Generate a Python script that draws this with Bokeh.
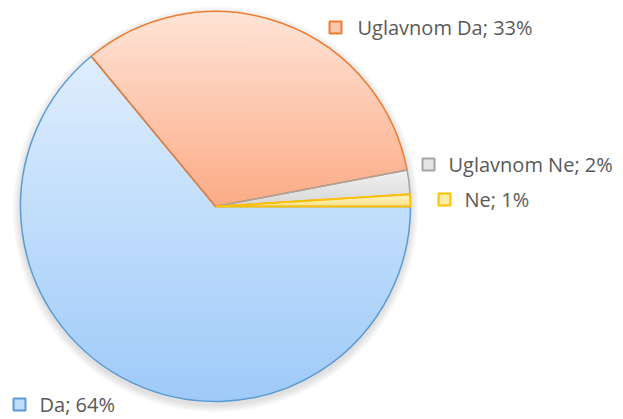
import math
from bokeh.plotting import figure
from bokeh.models import Range1d, ColumnDataSource
from bokeh.core.properties import value
from bokeh.embed import file_html
from bokeh.resources import INLINE

# ---- data ----
categories = ["Da", "Uglavnom Da", "Uglavnom Ne", "Ne"]
percents = [64, 33, 2, 1]

# ---- styles ----
light_colors = ["#dfeefe", "#fee4d7", "#f2f2f2", "#fff5c8"]
dark_colors = ["#9ecaf8", "#fcab86", "#d6d6d6", "#ffe285"]
mid_colors = ["#bfdcfb", "#fdc6ad", "#e4e4e4", "#ffeca6"]
line_colors = ["#5b9bd5", "#ed7d31", "#a5a5a5", "#ffc000"]
line_widths = [1.5, 1.5, 1.5, 2.0]

W, H = 623, 419
CX, CY, R = 215, 213, 195

# label layout (marker centre, text start) in plot units
label_marker_xy = [(19, 15), (335, 392), (428, 255), (444, 220)]
label_text_x = [39, 357, 448, 464]

p = figure(width=W, height=H, output_backend="svg", toolbar_location=None,
           x_range=Range1d(0, W), y_range=Range1d(0, H), min_border=0)
p.axis.visible = False
p.grid.visible = False
p.outline_line_color = None
p.background_fill_color = "white"
p.border_fill_color = "white"

# soft shadow
for k in range(1, 9):
    p.circle(x=CX, y=CY - 3, radius=R + k, fill_color="#808080",
             fill_alpha=0.035, line_color=None)

total = sum(percents)
cum = 0.0
angles = []
for v in percents:
    a_start = -(cum + v) / total * 2 * math.pi
    a_end = -cum / total * 2 * math.pi
    angles.append((a_start, a_end))
    cum += v

src = ColumnDataSource(dict(
    start=[a[0] for a in angles], end=[a[1] for a in angles],
    fill=mid_colors, line=line_colors, lw=line_widths))

# base wedges
p.wedge(x=CX, y=CY, radius=R, start_angle="start", end_angle="end",
        fill_color="fill", line_color=None, source=src)


def wedge_poly(a0, a1, n=200):
    xs, ys = [CX], [CY]
    for i in range(n + 1):
        a = a0 + (a1 - a0) * i / n
        xs.append(CX + R * math.cos(a))
        ys.append(CY + R * math.sin(a))
    return list(zip(xs, ys))


def clip(poly, y0, keep_above):
    out = []
    n = len(poly)
    for i in range(n):
        cur = poly[i]
        prev = poly[i - 1]
        cin = cur[1] >= y0 if keep_above else cur[1] <= y0
        pin = prev[1] >= y0 if keep_above else prev[1] <= y0
        if cin:
            if not pin:
                t = (y0 - prev[1]) / (cur[1] - prev[1])
                out.append((prev[0] + t * (cur[0] - prev[0]), y0))
            out.append(cur)
        elif pin:
            t = (y0 - prev[1]) / (cur[1] - prev[1])
            out.append((prev[0] + t * (cur[0] - prev[0]), y0))
    return out


def hex2rgb(h):
    h = h.lstrip("#")
    return tuple(int(h[i:i + 2], 16) for i in (0, 2, 4))


def lerp(c1, c2, t):
    a, b = hex2rgb(c1), hex2rgb(c2)
    return "#%02x%02x%02x" % tuple(int(round(a[i] + (b[i] - a[i]) * t)) for i in range(3))


# gradient bands
bx, by, bc = [], [], []
NB = 60
for i, (a0, a1) in enumerate(angles):
    poly = wedge_poly(a0, a1)
    ymin = min(q[1] for q in poly)
    ymax = max(q[1] for q in poly)
    h = (ymax - ymin) / NB
    for k in range(NB):
        lo = ymin + k * h
        hi = lo + h + 0.6
        band = clip(clip(poly, lo, True), hi, False)
        if len(band) < 3:
            continue
        t = 1 - (lo + h / 2 - ymin) / (ymax - ymin)
        bx.append([q[0] for q in band])
        by.append([q[1] for q in band])
        bc.append(lerp(light_colors[i], dark_colors[i], t))
p.patches(xs=bx, ys=by, fill_color=bc, line_color=None)

# outlines
p.wedge(x=CX, y=CY, radius=R, start_angle="start", end_angle="end",
        fill_color=None, line_color="line", line_width="lw", source=src)

# labels
labels = ["%s; %d%%" % (c, v) for c, v in zip(categories, percents)]
p.rect(x=[m[0] for m in label_marker_xy], y=[m[1] for m in label_marker_xy],
       width=12, height=12, fill_color=mid_colors, line_color=line_colors,
       line_width=2)
p.text(x=label_text_x, y=[m[1] for m in label_marker_xy], text=labels,
       text_font=value("Open Sans"), text_font_size="20px",
       text_color="#595959", text_baseline="middle", text_align="left")

open("out.html", "w").write(file_html(p, INLINE))
